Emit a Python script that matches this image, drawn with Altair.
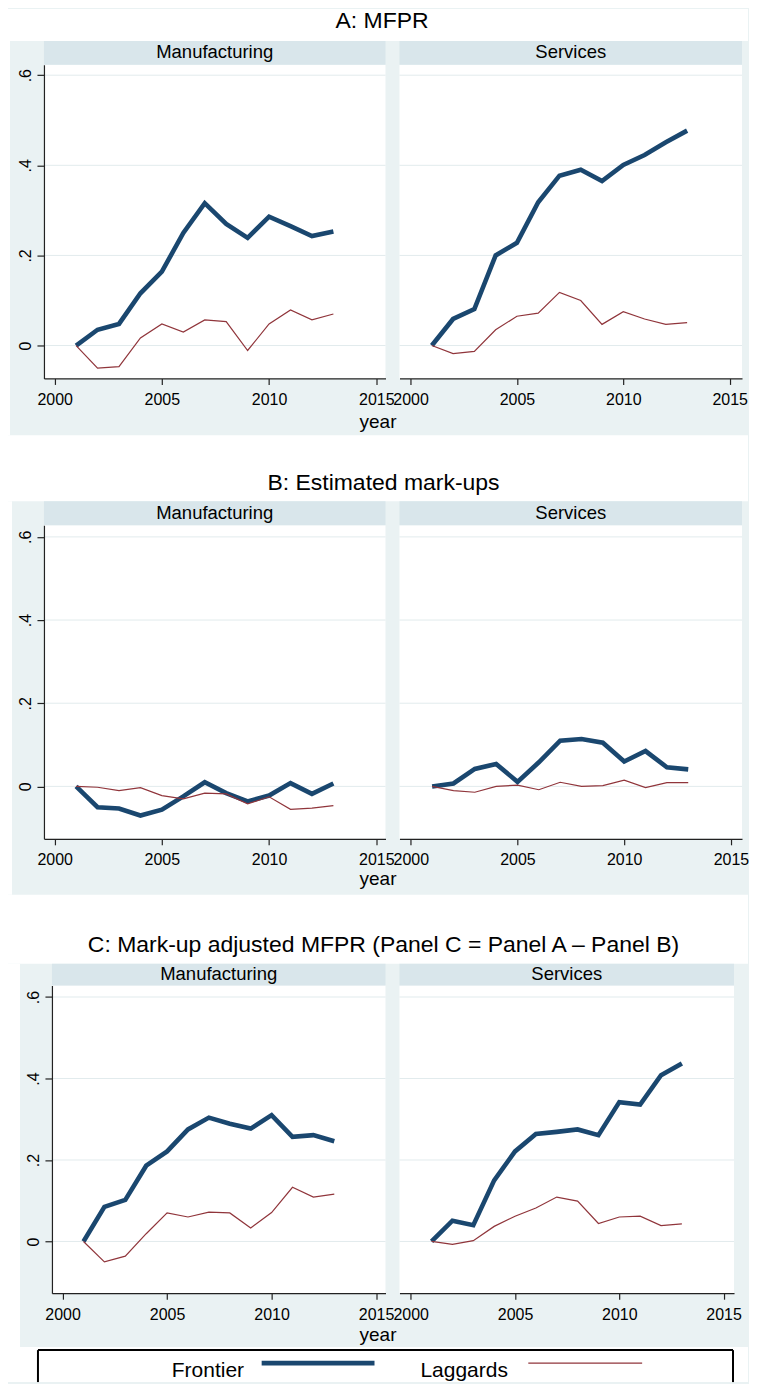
import altair as alt
import pandas as pd

# ---------------- data ----------------
years = list(range(2001, 2014))
panels = ["A", "B", "C"]
sectors = ["Manufacturing", "Services"]
series = ["Frontier", "Laggards"]
titles = ["A: MFPR", "B: Estimated mark-ups",
          "C: Mark-up adjusted MFPR (Panel C = Panel A \u2013 Panel B)"]
y_ticks = [0, 0.2, 0.4, 0.6]
x_ticks = [2000, 2005, 2010, 2015]

a_man_frontier = [0, 0.035, 0.048, 0.116, 0.164, 0.250, 0.316, 0.270, 0.239, 0.286, 0.265, 0.243, 0.253]
a_man_laggards = [0, -0.050, -0.047, 0.017, 0.048, 0.030, 0.057, 0.053, -0.011, 0.048, 0.079, 0.057, 0.070]
a_ser_frontier = [0, 0.059, 0.081, 0.200, 0.228, 0.318, 0.377, 0.390, 0.365, 0.401, 0.423, 0.451, 0.477]
a_ser_laggards = [0, -0.018, -0.013, 0.035, 0.065, 0.072, 0.118, 0.100, 0.047, 0.075, 0.059, 0.047, 0.051]

b_man_frontier = [0, -0.050, -0.053, -0.070, -0.056, -0.024, 0.010, -0.016, -0.036, -0.022, 0.008, -0.018, 0.007]
b_man_laggards = [0, -0.002, -0.010, -0.003, -0.022, -0.030, -0.016, -0.018, -0.042, -0.025, -0.055, -0.052, -0.046]
b_ser_frontier = [0, 0.007, 0.042, 0.054, 0.011, 0.058, 0.110, 0.114, 0.105, 0.060, 0.085, 0.046, 0.041]
b_ser_laggards = [0, -0.010, -0.014, 0.000, 0.003, -0.008, 0.010, 0.000, 0.002, 0.015, -0.003, 0.009, 0.009]

c_man_frontier = [0, 0.085, 0.102, 0.186, 0.221, 0.275, 0.304, 0.289, 0.277, 0.310, 0.257, 0.261, 0.246]
c_man_laggards = [0, -0.050, -0.036, 0.019, 0.070, 0.060, 0.072, 0.070, 0.033, 0.071, 0.133, 0.109, 0.116]
c_ser_frontier = [0, 0.051, 0.040, 0.150, 0.221, 0.264, 0.269, 0.275, 0.261, 0.342, 0.336, 0.408, 0.437]
c_ser_laggards = [0, -0.007, 0.002, 0.037, 0.062, 0.082, 0.109, 0.099, 0.044, 0.060, 0.062, 0.039, 0.043]

table = {
    ("A", "Manufacturing", "Frontier"): a_man_frontier,
    ("A", "Manufacturing", "Laggards"): a_man_laggards,
    ("A", "Services", "Frontier"): a_ser_frontier,
    ("A", "Services", "Laggards"): a_ser_laggards,
    ("B", "Manufacturing", "Frontier"): b_man_frontier,
    ("B", "Manufacturing", "Laggards"): b_man_laggards,
    ("B", "Services", "Frontier"): b_ser_frontier,
    ("B", "Services", "Laggards"): b_ser_laggards,
    ("C", "Manufacturing", "Frontier"): c_man_frontier,
    ("C", "Manufacturing", "Laggards"): c_man_laggards,
    ("C", "Services", "Frontier"): c_ser_frontier,
    ("C", "Services", "Laggards"): c_ser_laggards,
}
rows = []
for (p, s, k), vals in table.items():
    for yr, v in zip(years, vals):
        rows.append({"panel": p, "sector": s, "series": k, "year": yr, "value": v})
df = pd.DataFrame(rows)
grid_df = pd.DataFrame({"v": y_ticks})

# scale extents (axis ranges as drawn in the reference)
y_domains = {"A": [-0.073, 0.623], "B": [-0.126, 0.628], "C": [-0.127, 0.628]}
x_domains = {("A", 0): [1999.5, 2015.43], ("A", 1): [1999.48, 2015.58],
             ("B", 0): [1999.5, 2015.43], ("B", 1): [1999.47, 2015.52],
             ("C", 0): [1999.49, 2015.45], ("C", 1): [1999.46, 2015.5]}

# ---------------- style ----------------
NAVY = "#1A476F"
MAROON = "#90353B"
GREY = "#EAF2F3"
STRIP = "#D9E6EB"
GRID = "#E2EBED"
AX = "#222222"
FONT = "Liberation Sans"
TICK_FS = 16
one = pd.DataFrame({"k": [0]})


def rect(x1, x2, y1, y2, color):
    return alt.Chart(one).mark_rect(color=color, strokeWidth=0).encode(
        x=alt.value(x1), x2=alt.value(x2), y=alt.value(y1), y2=alt.value(y2))


def label(text, x, y, size, align="center"):
    return alt.Chart(one).mark_text(
        text=text, align=align, baseline="alphabetic", font=FONT,
        fontSize=size, color="black").encode(x=alt.value(x), y=alt.value(y))


def hline(x1, x2, y, color, width):
    return alt.Chart(one).mark_rule(color=color, strokeWidth=width, strokeCap="butt").encode(
        x=alt.value(x1), x2=alt.value(x2), y=alt.value(y))


def vline(x, y1, y2, color, width):
    return alt.Chart(one).mark_rule(color=color, strokeWidth=width, strokeCap="butt").encode(
        x=alt.value(x), y=alt.value(y1), y2=alt.value(y2))


def cell(p, si, w, h, strip_h, strip_base, extra, px0=0):
    """One facet: plot area spans x = px0 .. w inside a cell of width w."""
    s = sectors[si]
    pw = w - px0
    xaxis = alt.Axis(values=x_ticks, format="d", title=None, grid=False,
                     tickSize=6, tickColor=AX, tickWidth=1.2,
                     domainColor=AX, domainWidth=1.2, labelPadding=7,
                     labelFont=FONT, labelFontSize=TICK_FS, labelColor="black",
                     labelFlush=False, labelOverlap=False, labelBound=False, zindex=1)
    if si == 0:
        yaxis = alt.Axis(values=y_ticks, title=None, grid=False, offset=-px0,
                         labelExpr="datum.value == 0 ? '0' : '.' + format(datum.value * 10, '.0f')",
                         tickSize=7, tickColor=AX, tickWidth=1.2,
                         domainColor=AX, domainWidth=1.2,
                         labelAngle=270, labelAlign="center", labelBaseline="alphabetic",
                         labelPadding=6, labelFont=FONT, labelFontSize=TICK_FS,
                         labelColor="black", labelOverlap=False, labelBound=False,
                         labelFlush=False, zindex=1)
    else:
        yaxis = None
    xscale = alt.Scale(domain=x_domains[(p, si)], nice=False, zero=False, range=[px0, w])
    yscale = alt.Scale(domain=y_domains[p], nice=False, zero=False)

    grid = alt.Chart(grid_df).mark_rule(color=GRID, strokeWidth=1).encode(
        y=alt.Y("v:Q", scale=yscale, axis=yaxis),
        x=alt.value(px0), x2=alt.value(w))
    lines = alt.Chart(df).transform_filter(
        (alt.datum.panel == p) & (alt.datum.sector == s)
    ).mark_line().encode(
        x=alt.X("year:Q", scale=xscale, axis=xaxis),
        y=alt.Y("value:Q", scale=yscale, axis=yaxis),
        color=alt.Color("series:N", scale=alt.Scale(domain=series, range=[NAVY, MAROON]), legend=None),
        strokeWidth=alt.StrokeWidth("series:N", scale=alt.Scale(domain=series, range=[4.6, 1.2]),
                                    legend=None),
        order=alt.Order("year:Q"),
    )
    layers = extra + [
        rect(px0, w, 0, h, "white"),
        rect(px0, w, -strip_h, 0, STRIP),
        label(s, px0 + pw / 2, strip_base, 18.5),
        grid,
        lines,
    ]
    return alt.layer(*layers).properties(width=w, height=h)


# ---------------- Panel A ----------------
W0, W1 = 342, 343
hA = 314
A_left = cell("A", 0, W0, hA, 24, -6.5, [
    rect(-36, 705, -56, -24, "white"),
    rect(-36, -34, -24, 371, "white"),
    label(titles[0], 338.5, -37, 23),
    label("year", 334.5, hA + 50, 19),
])
A_right = cell("A", 1, W1, hA, 24, -6.5, [])

# ---------------- Panel B ----------------
hB = 314
B_left = cell("B", 0, W0, hB, 24, -6.5, [
    rect(-36, 705, -90, -24, "white"),
    rect(-36, -32, -24, 370, "white"),
    label(titles[1], 340, -35, 23),
    label("year", 334.5, hB + 46, 19),
])
B_right = cell("B", 1, W1, hB, 24, -6.5, [])

# ---------------- Panel C (+ legend) ----------------
hC = 308
legend_layers = [
    rect(-36, 705, 362, 397, "white"),
    hline(-6, 690, 365, "black", 2),
    vline(-6, 365, 397, "black", 2),
    vline(690, 365, 397, "black", 2),
    label(series[0], 128, 392, 21, align="left"),
    hline(218, 331, 378, NAVY, 4.6),
    label(series[1], 377, 392, 21, align="left"),
    hline(485, 599, 378, MAROON, 1.2),
]
C_left = cell("C", 0, W0, hC, 22, -5.5, [
    rect(-36, 705, -91, -22, "white"),
    rect(-36, -24, -22, 362, "white"),
    label(titles[2], 340, -34, 23),
    label("year", 334.5, hC + 48, 19),
] + legend_layers, px0=8)
C_right = cell("C", 1, 335, hC, 22, -5.5, [])

chart = alt.concat(
    A_left, A_right, B_left, B_right, C_left, C_right,
    columns=2, spacing=alt.RowColnumber(row=147, column=14), bounds="flush",
).properties(background=GREY, padding=0).configure_view(strokeWidth=0)

chart.save("out.html", embed_options={"renderer": "svg", "actions": False})
